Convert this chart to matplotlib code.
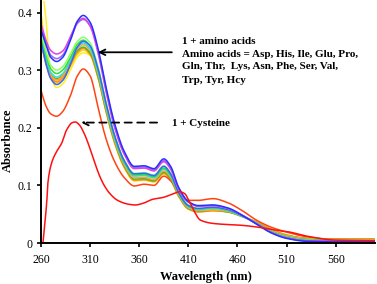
import matplotlib
matplotlib.use("Agg")
import matplotlib.pyplot as plt
import numpy as np

# ---------------- data ----------------
wl = [260, 265, 270, 276, 282, 290, 297, 303, 310, 318, 326, 335, 345, 355, 365,
      375, 385, 392, 400, 410, 420, 435, 450, 465, 480, 495, 510, 530, 560, 600]

amino_blue = [0.370, 0.345, 0.322, 0.315, 0.322, 0.352, 0.385, 0.395, 0.383, 0.338, 0.272, 0.207, 0.158, 0.133, 0.134,
              0.129, 0.146, 0.133, 0.097, 0.072, 0.065, 0.066, 0.061, 0.048, 0.032, 0.017, 0.008, 0.003, 0.002, 0.002]
amino_magenta = [0.380, 0.352, 0.334, 0.328, 0.333, 0.358, 0.383, 0.390, 0.376, 0.330, 0.264, 0.200, 0.153, 0.129, 0.130,
                 0.125, 0.141, 0.128, 0.094, 0.071, 0.064, 0.065, 0.060, 0.048, 0.033, 0.018, 0.009, 0.004, 0.003, 0.003]
amino_violet = [0.372, 0.347, 0.326, 0.320, 0.326, 0.354, 0.381, 0.388, 0.378, 0.334, 0.268, 0.203, 0.155, 0.131, 0.132,
                0.127, 0.143, 0.130, 0.095, 0.071, 0.064, 0.065, 0.060, 0.048, 0.033, 0.018, 0.009, 0.004, 0.003, 0.003]
amino_lgreen = [0.365, 0.333, 0.308, 0.300, 0.306, 0.328, 0.350, 0.357, 0.347, 0.306, 0.246, 0.187, 0.143, 0.121, 0.122,
                0.118, 0.134, 0.121, 0.089, 0.066, 0.060, 0.062, 0.058, 0.047, 0.033, 0.019, 0.010, 0.005, 0.003, 0.003]
amino_green = [0.360, 0.328, 0.302, 0.294, 0.300, 0.322, 0.345, 0.352, 0.342, 0.302, 0.242, 0.184, 0.140, 0.118, 0.119,
               0.115, 0.130, 0.118, 0.087, 0.064, 0.059, 0.061, 0.057, 0.047, 0.034, 0.020, 0.011, 0.006, 0.004, 0.004]
amino_royal = [0.350, 0.312, 0.285, 0.275, 0.282, 0.310, 0.340, 0.350, 0.342, 0.303, 0.244, 0.186, 0.142, 0.120, 0.121,
               0.117, 0.133, 0.120, 0.088, 0.065, 0.060, 0.062, 0.058, 0.047, 0.033, 0.018, 0.009, 0.004, 0.003, 0.003]
amino_cyan = [0.355, 0.320, 0.296, 0.288, 0.294, 0.318, 0.340, 0.347, 0.337, 0.297, 0.238, 0.181, 0.138, 0.116, 0.117,
              0.113, 0.128, 0.116, 0.086, 0.063, 0.058, 0.060, 0.056, 0.046, 0.034, 0.020, 0.011, 0.006, 0.004, 0.004]
amino_orange = [0.352, 0.316, 0.291, 0.283, 0.290, 0.314, 0.337, 0.344, 0.334, 0.294, 0.235, 0.178, 0.135, 0.113, 0.114,
                0.110, 0.125, 0.114, 0.084, 0.061, 0.056, 0.057, 0.055, 0.046, 0.035, 0.022, 0.013, 0.008, 0.006, 0.006]
amino_dgreen = [0.348, 0.314, 0.292, 0.285, 0.291, 0.313, 0.334, 0.340, 0.330, 0.290, 0.232, 0.176, 0.133, 0.111, 0.112,
                0.108, 0.123, 0.112, 0.083, 0.060, 0.055, 0.057, 0.054, 0.046, 0.035, 0.022, 0.013, 0.008, 0.006, 0.006]
amino_orange2 = [0.345, 0.310, 0.287, 0.280, 0.287, 0.309, 0.331, 0.338, 0.328, 0.288, 0.230, 0.174, 0.131, 0.109, 0.110,
                 0.107, 0.121, 0.110, 0.082, 0.059, 0.054, 0.056, 0.054, 0.046, 0.036, 0.023, 0.014, 0.008, 0.007, 0.007]
amino_gold = [0.400, 0.330, 0.290, 0.278, 0.284, 0.306, 0.328, 0.335, 0.326, 0.287, 0.229, 0.173, 0.130, 0.108, 0.109,
              0.106, 0.120, 0.109, 0.081, 0.059, 0.054, 0.056, 0.054, 0.046, 0.036, 0.023, 0.014, 0.008, 0.007, 0.007]
amino_yellow = [0.460, 0.390, 0.290, 0.270, 0.276, 0.300, 0.323, 0.330, 0.326, 0.292, 0.236, 0.178, 0.134, 0.110, 0.110,
                0.107, 0.120, 0.110, 0.082, 0.060, 0.055, 0.056, 0.054, 0.046, 0.036, 0.023, 0.014, 0.008, 0.007, 0.007]
amino_redorange = [0.265, 0.238, 0.224, 0.220, 0.228, 0.256, 0.290, 0.302, 0.290, 0.236, 0.182, 0.141, 0.113, 0.099, 0.102,
                   0.100, 0.116, 0.108, 0.088, 0.074, 0.074, 0.077, 0.070, 0.056, 0.039, 0.027, 0.019, 0.011, 0.006, 0.005]

amino_series = [amino_yellow, amino_gold, amino_orange2, amino_redorange, amino_dgreen, amino_orange,
                amino_cyan, amino_green, amino_lgreen, amino_royal, amino_violet, amino_magenta, amino_blue]
amino_colors = ["#ffee22", "#ffcc00", "#ff8c1a", "#ff4411", "#44bb22", "#ffa040",
                "#33dddd", "#33dd33", "#88ff66", "#3366ff", "#9a66ff", "#dd44dd", "#2233ff"]

wl_cys = [262, 264, 266, 267, 271, 276, 281, 286, 292, 295, 299, 304, 308, 312, 316, 320, 325, 330, 337, 345,
          350, 356, 364, 374, 384, 394, 401, 406, 411, 416, 422, 435, 450, 462, 483, 500, 513, 530, 560, 600]
cysteine = [0.000, 0.035, 0.075, 0.104, 0.140, 0.159, 0.173, 0.196, 0.209, 0.210, 0.205, 0.190, 0.173, 0.153, 0.133,
            0.115, 0.098, 0.086, 0.075, 0.069, 0.067, 0.066, 0.069, 0.076, 0.079, 0.085, 0.089, 0.086, 0.072, 0.055,
            0.040, 0.034, 0.032, 0.031, 0.027, 0.022, 0.019, 0.012, 0.005, 0.004]

xticks = [260, 310, 360, 410, 460, 510, 560]
yticks = [0, 0.1, 0.2, 0.3, 0.4]
ytick_labels = ["0", "0.1", "0.2", "0.3", "0.4"]


def smooth_path(x, y, n=12):
    """Monotone cubic (Fritsch-Carlson) rendering path through the given points."""
    x = np.asarray(x, float)
    y = np.asarray(y, float)
    h = np.diff(x)
    d = np.diff(y) / h
    m = np.zeros_like(y)
    m[0], m[-1] = d[0], d[-1]
    for i in range(1, len(x) - 1):
        if d[i - 1] * d[i] <= 0:
            m[i] = 0.0
        else:
            w1 = 2 * h[i] + h[i - 1]
            w2 = h[i] + 2 * h[i - 1]
            m[i] = (w1 + w2) / (w1 / d[i - 1] + w2 / d[i])
    xs, ys = [], []
    for i in range(len(x) - 1):
        t = np.linspace(0, 1, n, endpoint=False)
        h00 = 2 * t**3 - 3 * t**2 + 1
        h10 = t**3 - 2 * t**2 + t
        h01 = -2 * t**3 + 3 * t**2
        h11 = t**3 - t**2
        xs.append(x[i] + t * h[i])
        ys.append(h00 * y[i] + h10 * h[i] * m[i] + h01 * y[i + 1] + h11 * h[i] * m[i + 1])
    xs.append([x[-1]])
    ys.append([y[-1]])
    return np.concatenate(xs), np.concatenate(ys)


# ---------------- figure ----------------
plt.rcParams['font.family'] = ['Liberation Serif', 'DejaVu Serif']
W, H = 377, 284
fig = plt.figure(figsize=(W / 100, H / 100), dpi=100)
ax = fig.add_axes([41 / W, (H - 243) / H, 334 / W, 242 / H])

for ys_, c in zip(amino_series, amino_colors):
    sx, sy = smooth_path(wl, ys_)
    ax.plot(sx, sy, color=c, lw=1.1, solid_joinstyle='round')
sx, sy = smooth_path(wl_cys, cysteine)
ax.plot(sx, sy, color="#ff1010", lw=1.1, solid_joinstyle='round')

ax.set_xlim(260, 600)
ax.set_ylim(0, 0.42)
ax.set_xticks(xticks)
ax.set_yticks(yticks)
ax.set_yticklabels(ytick_labels)
for s in ['top', 'right']:
    ax.spines[s].set_visible(False)
for s in ['left', 'bottom']:
    ax.spines[s].set_linewidth(1.4)
ax.tick_params(axis='both', direction='out', length=3, width=1.2, labelsize=8.5, pad=3)
ax.tick_params(axis='x', pad=5)

fig.text(206 / W, 1 - 277 / H, "Wavelength (nm)", ha='center', va='center', fontsize=9, fontweight='bold')
fig.text(8 / W, 1 - 140 / H, "Absorbance", ha='center', va='center', rotation=90, fontsize=9, fontweight='bold')

# annotations
ax.annotate("", xy=(315, 0.331), xytext=(396, 0.331),
            arrowprops=dict(arrowstyle='->', color='black', lw=1.3))
ax.annotate("", xy=(298, 0.209), xytext=(381, 0.209),
            arrowprops=dict(arrowstyle='->', color='black', lw=1.3, linestyle=(0, (4, 3))))

lines = ["1 + amino acids",
         "Amino acids = Asp, His, Ile, Glu, Pro,",
         "Gln, Thr,  Lys, Asn, Phe, Ser, Val,",
         "Trp, Tyr, Hcy"]
ys_px = [41.7, 54.3, 66.7, 80]
for t, yp in zip(lines, ys_px):
    fig.text(182 / W, 1 - yp / H, t, ha='left', va='center', fontsize=8, fontweight='bold')
fig.text(172 / W, 1 - 123 / H, "1 + Cysteine", ha='left', va='center', fontsize=8, fontweight='bold')

fig.savefig("out.png", dpi=100)
